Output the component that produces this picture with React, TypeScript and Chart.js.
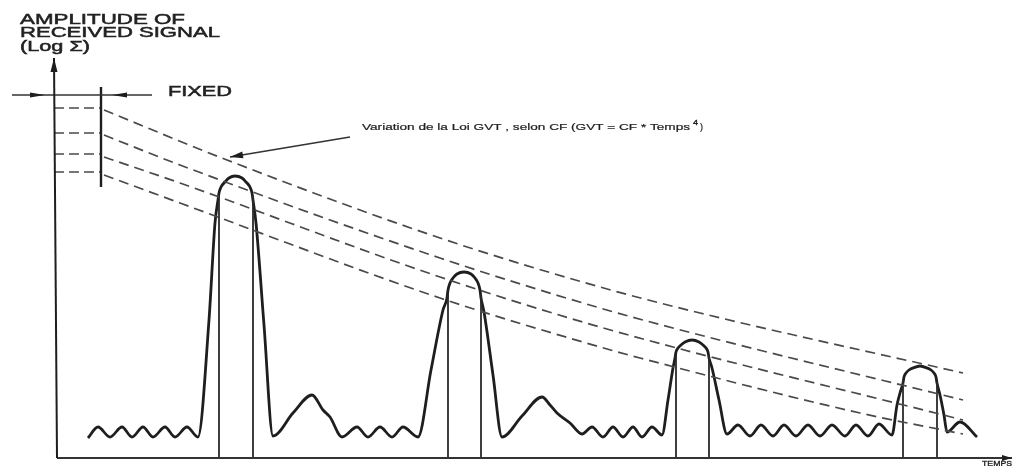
import { useEffect, useRef } from "react";
import { Chart, registerables } from "chart.js";

Chart.register(...registerables);

// Units: time t (to the right of the amplitude axis), amplitude a (above the time axis)

// Received signal (echo train), [time, amplitude]
const noiseA: number[][] = [[31,20],[41,31],[53,21],[65,31],[75,21],[86,31],[96,21],[108,31],[118,21],[130,31],[141,21]];
const echo1: number[][] = [[152,138],[158,235],[161,258],[162,265],[164,271],[168,276],[172,280],[178,282],[185,280],[189,276],[193,271],[195,265],[196,258],[199,235],[207,133],[216,22]];
const noiseB: number[][] = [[236,45],[255,63],[266,48],[273,41],[285,21],[300,31],[311,21],[323,31],[335,21],[346,31],[361,21]];
const echo2: number[][] = [[374,88],[386,148],[390,160],[391,168],[393,175],[396,180],[400,184],[407,186],[414,184],[418,180],[421,175],[423,168],[424,160],[427,146],[436,83],[445,21]];
const noiseC: number[][] = [[465,42],[485,61],[493,53],[500,45],[513,35],[525,24],[535,31],[546,21],[556,31],[566,21],[576,31],[585,21],[595,31],[605,23]];
const echo3: number[][] = [[611,58],[616,90],[618,100],[619,106],[621,110],[624,113],[628,116],[635,118],[642,116],[646,113],[649,110],[651,106],[652,100],[655,90],[662,58],[670,24]];
const noiseD: number[][] = [[681,33],[693,22],[704,33],[716,22],[727,33],[739,22],[751,33],[763,22],[775,33],[788,22],[799,33],[811,22],[822,34],[835,23]];
const echo4: number[][] = [[840,53],[843,65],[846,75],[847,81],[849,85],[852,88],[856,90],[863,92],[870,90],[874,88],[877,85],[879,81],[880,75],[883,63],[887,43],[890,26],[903,36],[920,21]];

// Gate lines under each echo
const gateTime = [162,196,391,424,619,652,846,880];
const gateTop = [262,262,164,164,103,103,78,76];

// GVT law curves (dashed)
const gvt1Time = [47,170,383,543,643,906];
const gvt1Amp = [348,298,220,171,145,85];
const gvt2Time = [47,123,383,543,643,906];
const gvt2Amp = [323,293,200,150,123,58];
const gvt3Time = [47,123,383,543,906];
const gvt3Amp = [301,275,181,131,38];
const gvt4Time = [47,123,383,543,583,803,906];
const gvt4Amp = [283,255,160,111,100,45,24];

// Fixed-window levels (short dashes between axis and bar)
const fixedLevels = [350,325,304,286];
const fixedStart = -3;
const fixedEnd = 45;

// Construction lines
const yAxisTime = [0,-3];
const yAxisAmp = [0,400];
const xAxisTime = [0,955];
const xAxisAmp = [0,0];
const fixedLineTime = [-45,95];
const fixedLineAmp = [363,363];
const barTime = [44,44];
const barAmp = [271,371];
const pointerTime = [293,173];
const pointerAmp = [321,301];

const toPts = (pairs: number[][]) => pairs.map(([t, a]) => ({ x: t, y: a }));
const pts = (ts: number[], as: number[]) => ts.map((t, i) => ({ x: t, y: as[i] }));

const INK = "#1e1e1e";

export default function App() {
  const ref = useRef<HTMLCanvasElement>(null);

  useEffect(() => {
    const line = (data: any[], extra: any = {}) => ({
      data,
      showLine: true,
      pointRadius: 0,
      borderColor: INK,
      borderWidth: 1.8,
      fill: false,
      ...extra,
    });

    const datasets: any[] = [
      line(pts(yAxisTime, yAxisAmp), { borderWidth: 2 }),
      line(pts(xAxisTime, xAxisAmp), { borderWidth: 1.8, borderColor: "#333" }),
      line(pts(fixedLineTime, fixedLineAmp), { borderWidth: 1.4, borderColor: "#333" }),
      line(pts(barTime, barAmp), { borderWidth: 2.4 }),
      line(pts(pointerTime, pointerAmp), { borderWidth: 1.3, borderColor: "#333" }),
    ];
    fixedLevels.forEach((lv) =>
      datasets.push(
        line(pts([fixedStart, fixedEnd], [lv, lv]), {
          borderWidth: 1.7,
          borderColor: "#4a4a4a",
          borderDash: [10, 5],
        })
      )
    );
    [
      [gvt1Time, gvt1Amp],
      [gvt2Time, gvt2Amp],
      [gvt3Time, gvt3Amp],
      [gvt4Time, gvt4Amp],
    ].forEach(([ts, as]) =>
      datasets.push(
        line(pts(ts, as), {
          borderWidth: 1.7,
          borderColor: "#4a4a4a",
          borderDash: [10, 6],
          cubicInterpolationMode: "monotone",
        })
      )
    );
    gateTime.forEach((t, i) =>
      datasets.push(line(pts([t, t], [0, gateTop[i]]), { borderWidth: 1.8, borderColor: "#2a2a2a" }))
    );
    const signal = [...noiseA, ...echo1, ...noiseB, ...echo2, ...noiseC, ...echo3, ...noiseD, ...echo4];
    datasets.push(
      line(toPts(signal), {
        borderWidth: 2.8,
        borderColor: INK,
        cubicInterpolationMode: "monotone",
      })
    );

    const arrows = [
      { tip: [-3, 400], from: [-3, 380], len: 14, hw: 3.5 },
      { tip: [955, 0], from: [935, 0], len: 10, hw: 3 },
      { tip: [-12, 363], from: [-30, 363], len: 15, hw: 2.5 },
      { tip: [55, 363], from: [75, 363], len: 15, hw: 2.5 },
      { tip: [173, 301], from: [293, 321], len: 13, hw: 3.5 },
    ];

    const labels = [
      { text: "AMPLITUDE OF", t: -37, a: 438, w: 165, size: 14, stroke: 0.5 },
      { text: "RECEIVED SIGNAL", t: -37, a: 425, w: 200, size: 14, stroke: 0.5 },
      { text: "(Log Σ)", t: -37, a: 411, w: 70, size: 14, stroke: 0.5 },
      { text: "FIXED", t: 111, a: 366, w: 64, size: 14, stroke: 0.5 },
      { text: "Variation de la Loi GVT , selon CF (GVT = CF * Temps", t: 305, a: 330, w: 328, size: 9, stroke: 0.2 },
      { text: "4", t: 636, a: 335, w: 5, size: 8, stroke: 0.4 },
      { text: ")", t: 643, a: 330, w: 3, size: 9, stroke: 0.2 },
      { text: "TEMPS", t: 925, a: -6, w: 30, size: 7, stroke: 0.3 },
    ];

    const decor = {
      id: "decor",
      afterDatasetsDraw(chart: any) {
        const ctx = chart.ctx as CanvasRenderingContext2D;
        const xs = chart.scales.x;
        const ys = chart.scales.y;
        ctx.save();
        ctx.fillStyle = INK;
        arrows.forEach((ar) => {
          const tx = xs.getPixelForValue(ar.tip[0]);
          const ty = ys.getPixelForValue(ar.tip[1]);
          const fx = xs.getPixelForValue(ar.from[0]);
          const fy = ys.getPixelForValue(ar.from[1]);
          const ang = Math.atan2(ty - fy, tx - fx);
          const bx = tx - Math.cos(ang) * ar.len;
          const by = ty - Math.sin(ang) * ar.len;
          const nx = -Math.sin(ang) * ar.hw;
          const ny = Math.cos(ang) * ar.hw;
          ctx.beginPath();
          ctx.moveTo(tx, ty);
          ctx.lineTo(bx + nx, by + ny);
          ctx.lineTo(bx - nx, by - ny);
          ctx.closePath();
          ctx.fill();
        });
        ctx.fillStyle = "#222";
        ctx.strokeStyle = "#222";
        ctx.textBaseline = "middle";
        ctx.textAlign = "left";
        labels.forEach((lb) => {
          ctx.font = `${lb.size}px "Liberation Sans", Arial, sans-serif`;
          const m = ctx.measureText(lb.text).width;
          const x = xs.getPixelForValue(lb.t);
          const y = ys.getPixelForValue(lb.a);
          ctx.save();
          ctx.translate(x, y);
          ctx.scale(lb.w / m, 1);
          ctx.fillText(lb.text, 0, 0);
          ctx.lineWidth = lb.stroke;
          ctx.strokeText(lb.text, 0, 0);
          ctx.restore();
        });
        ctx.restore();
      },
    };

    const chart = new Chart(ref.current!, {
      type: "scatter",
      data: { datasets },
      options: {
        animation: false,
        responsive: false,
        layout: { padding: 0 },
        plugins: { legend: { display: false }, tooltip: { enabled: false } },
        scales: {
          x: { type: "linear", min: -57, max: 959, display: false },
          y: { type: "linear", min: -8, max: 458, display: false },
        },
      },
      plugins: [decor],
    } as any);
    return () => chart.destroy();
  }, []);

  return (
    <div style={{ position: "fixed", left: 0, top: 0, width: 1016, height: 466, background: "#fff" }}>
      <canvas ref={ref} width={1016} height={466} style={{ display: "block" }} />
    </div>
  );
}
